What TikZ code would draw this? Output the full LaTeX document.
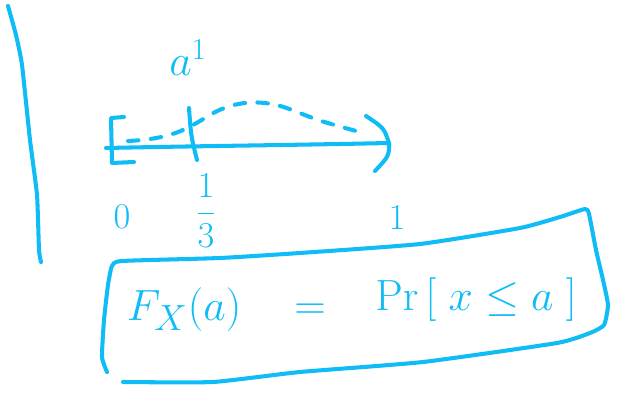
\documentclass[tikz,border=0pt]{standalone}
\usepackage{amsmath}
\usepackage{amssymb}
\usetikzlibrary{calc}
\definecolor{ink}{RGB}{15,188,245}
\tikzset{
pen/.style = {draw=ink, line width=2.3pt, line cap=round, line join=round},
dashpen/.style = {pen, dash pattern=on 6pt off 7pt},
lab/.style = {text=ink, font=\fontsize{20}{24}\selectfont, inner sep=0pt},
big/.style = {lab, font=\fontsize{32}{36}\selectfont}
}
\newcommand{\stroke}[1]{\draw[pen] plot[smooth, tension=0.3] coordinates {#1};}

\begin{document}
\begin{tikzpicture}[x=0.02cm, y=-0.02cm]
    \useasboundingbox (0,0) rectangle (631,394);

    % margin line
    \stroke{(8,6) (16,35) (22,65) (30,140) (37,195) (39,250) (41,262)}

    % the unit interval
    \coordinate (o) at (106,148);
    \coordinate (e) at (389,143);
    \coordinate (tipup) at (366,116);
    \coordinate (tipdown) at (375,171);
    \coordinate (third) at (193,146);
    \draw[pen] (o) .. controls (200,146) and (300,145) .. (e);
    \draw[pen] (tipup) .. controls (384,128) .. (e) .. controls (389,156) .. (tipdown);
    \draw[pen] (124,117) -- (111,118) -- (112,163) -- (134,162);
    \draw[pen] ($(third)+(-4,-38)$) .. controls ($(third)+(-2,-10)$) .. ($(third)+(4,14)$);
    \draw[dashpen] (128,141) .. controls (170,139) and (185,130) .. (205,118)
        .. controls (232,100) and (262,98) .. (292,110) .. controls (320,121) .. (356,131);

    \node[lab, font=\fontsize{26}{30}\selectfont] (point) at (188,58) {$a^{1}$};
    \node[lab] (zero) at (122,217) {$0$};
    \node[lab] (onethird) at (206,211) {$\dfrac{1}{3}$};
    \node[lab] (one) at (397,218) {$1$};

    % boxed definition
    \stroke{(107,372) (102,357) (104,320) (108,285) (112,266) (122,261) (220,258) (300,253)
        (420,244) (520,228) (560,217) (585,209) (589,214) (596,250) (603,280) (608,305)
        (604,325) (590,333) (557,343) (423,362) (300,372) (213,382) (123,382)}
    \node[big] (cdf) at (184,310) {$F_X(a)$};
    \node[big] (eq) at (310,312) {$=$};
    \node[big] (prob) at (476,300) {$\mathrm{Pr}\,[\;x \le a\;]$};
\end{tikzpicture}
\end{document}
